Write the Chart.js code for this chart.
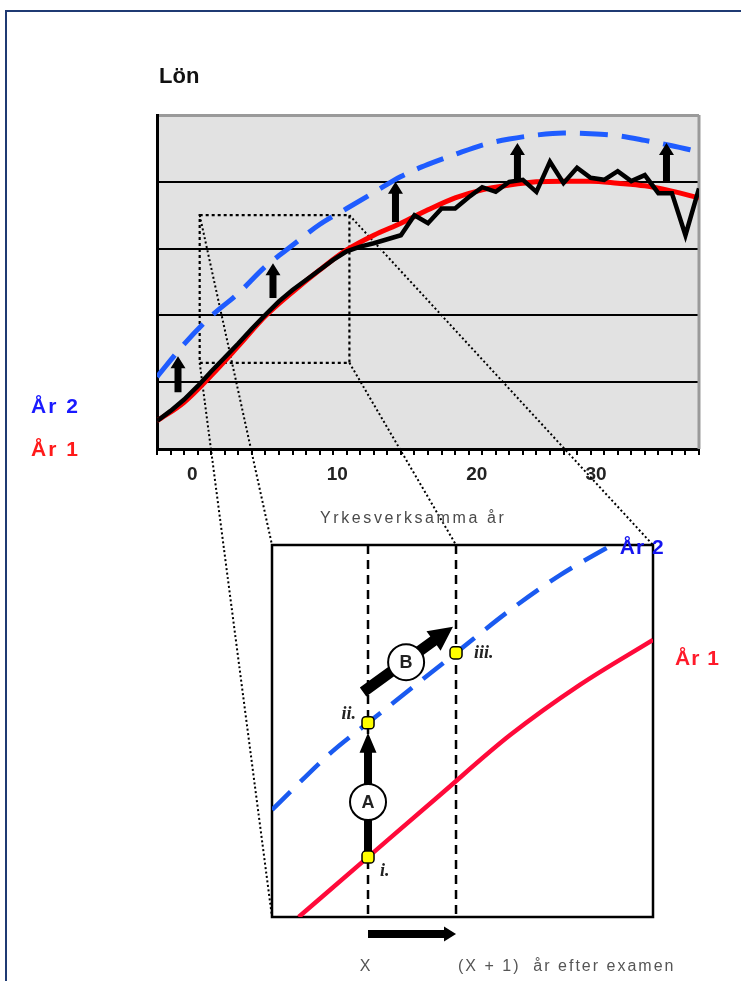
<!DOCTYPE html>
<html><head><meta charset="utf-8">
<script src="https://cdn.jsdelivr.net/npm/chart.js@4/dist/chart.umd.min.js"></script>
<style>
html,body{margin:0;padding:0;background:#fff;}
#wrap{position:relative;width:741px;height:981px;overflow:hidden;}
#frame{position:absolute;left:5px;top:10px;width:800px;height:1000px;border-top:2px solid #1f3a73;border-left:2px solid #1f3a73;}
canvas{position:absolute;left:0;top:0;}
#c2{pointer-events:none;}
</style></head><body>
<div id="wrap"><div id="frame"></div>
<canvas id="c1" width="741" height="981"></canvas>
<canvas id="c2" width="741" height="981"></canvas>
</div>
<script>
// ===== Main chart data (x = yearly tick steps along the axis, y = salary grid units) =====
const xLabelPos  = [2.6, 13.3, 23.6, 32.4];
const xLabelText = ['0', '10', '20', '30'];

const redX  = [0,2,4,6,8,10,12,14,16,18,20,22,24,26,28,30,32,34,36,38,40];
const redY  = [0.42,0.70,1.10,1.54,1.99,2.35,2.68,2.98,3.20,3.38,3.58,3.76,3.88,3.95,4.00,4.01,4.01,3.98,3.94,3.86,3.76];
const blueX = [0,2,4,6,8,10,12,14,16,18,20,22,24,26,28,30,32,34,36,38,40];
const blueY = [1.08,1.57,1.99,2.33,2.73,3.05,3.36,3.60,3.84,4.08,4.26,4.41,4.55,4.64,4.70,4.73,4.72,4.69,4.62,4.54,4.45];
const blackX = [0,1,2,3,4,5,6,7,8,9,10,11,12,13,14,15,16,17,18,19,20,21,22,23,24,25,26,27,28,29,30,31,32,33,34,35,36,37,38,39,40];
const blackY = [0.42,0.57,0.74,0.94,1.16,1.37,1.58,1.80,2.01,2.21,2.38,2.53,2.68,2.83,2.96,3.03,3.08,3.14,3.20,3.50,3.38,3.60,3.60,3.77,3.92,3.85,4.00,4.03,3.85,4.30,3.98,4.21,4.06,4.03,4.16,4.01,4.10,3.83,3.83,3.20,3.90];

// raise arrows (from År 1 level up to År 2 level)
const upArrowX    = [1.55, 8.56, 17.6, 26.6, 37.6];
const upArrowFrom = [0.85, 2.26, 3.40, 4.00, 4.00];
const upArrowTo   = [1.39, 2.78, 4.00, 4.58, 4.58];

// zoomed region in main chart
const zoomX = [3.15, 14.2];
const zoomY = [1.29, 3.50];

// ===== Zoom panel data =====
const panelRedX  = [0.7, 2.52, 4.41, 6.25, 8.08, 10];
const panelRedY  = [0, 1.61, 3.28, 4.89, 6.24, 7.45];
const panelBlueX = [0, 1.57, 2.52, 4.83, 6.25, 7.56, 8.92];
const panelBlueY = [2.88, 4.44, 5.22, 7.10, 8.25, 9.19, 10.0];
const markX      = [2.52, 4.83];
const markText   = ['X', '(X + 1)  år efter examen'];
const ptX        = [2.52, 2.52, 4.83];
const ptY        = [1.61, 5.22, 7.10];
const ptText     = ['i.', 'ii.', 'iii.'];
const arrowA     = {x0:2.52, y0:1.75, x1:2.52, y1:4.95, cx:2.52, cy:3.09, text:'A'};
const arrowB     = {x0:2.39, y0:6.05, x1:4.75, y1:7.80, cx:3.52, cy:6.85, text:'B'};

const SANS = '"Liberation Sans", Arial, sans-serif';
Chart.defaults.font.family = SANS;

function pts(xs, ys){ return xs.map((x,i)=>({x, y: ys[i]})); }
function arrow(ctx,x0,y0,x1,y1,sw,hw,hl){
  const dx=x1-x0, dy=y1-y0, L=Math.hypot(dx,dy), ux=dx/L, uy=dy/L, px=-uy, py=ux;
  const bx=x1-ux*hl, by=y1-uy*hl;
  ctx.beginPath();
  ctx.moveTo(x0+px*sw/2,y0+py*sw/2);
  ctx.lineTo(bx+px*sw/2,by+py*sw/2);
  ctx.lineTo(bx+px*hw/2,by+py*hw/2);
  ctx.lineTo(x1,y1);
  ctx.lineTo(bx-px*hw/2,by-py*hw/2);
  ctx.lineTo(bx-px*sw/2,by-py*sw/2);
  ctx.lineTo(x0-px*sw/2,y0-py*sw/2);
  ctx.closePath(); ctx.fill();
}

// ===== Panel chart (created first so the main chart can connect to it) =====
const panelPlugin = {
  id:'panel',
  beforeDatasetsDraw(chart){
    const {ctx, chartArea:a, scales:{x,y}} = chart;
    ctx.save();
    ctx.fillStyle='#fff'; ctx.fillRect(a.left,a.top,a.width,a.height);
    ctx.strokeStyle='#000'; ctx.lineWidth=2.5; ctx.setLineDash([9,6]);
    markX.forEach(v=>{const p=x.getPixelForValue(v); ctx.beginPath(); ctx.moveTo(p,a.top); ctx.lineTo(p,a.bottom); ctx.stroke();});
    ctx.setLineDash([]);
    ctx.lineWidth=2.5; ctx.strokeRect(a.left,a.top,a.width,a.height);
    ctx.fillStyle='#000';
    [arrowA, arrowB].forEach((A,i)=>{
      const sw = i===0?8:11, hw = i===0?17:24, hl = i===0?20:24;
      arrow(ctx, x.getPixelForValue(A.x0), y.getPixelForValue(A.y0), x.getPixelForValue(A.x1), y.getPixelForValue(A.y1), sw, hw, hl);
    });
    [arrowA, arrowB].forEach(A=>{
      const cx=x.getPixelForValue(A.cx), cy=y.getPixelForValue(A.cy);
      ctx.beginPath(); ctx.arc(cx,cy,18,0,Math.PI*2);
      ctx.fillStyle='#fff'; ctx.fill(); ctx.lineWidth=2; ctx.strokeStyle='#000'; ctx.stroke();
      ctx.fillStyle='#222'; ctx.font='bold 18px '+SANS; ctx.textAlign='center'; ctx.textBaseline='middle';
      ctx.fillText(A.text, cx, cy+1);
    });
    ctx.restore();
  },
  afterDatasetsDraw(chart){
    const {ctx, scales:{x,y}} = chart;
    ctx.save();
    ctx.fillStyle='#222'; ctx.font='italic bold 18px "Liberation Serif", serif'; ctx.textBaseline='middle';
    const off = [[12,14,'left'],[-12,-8,'right'],[18,0,'left']];
    ptText.forEach((t,i)=>{
      ctx.textAlign=off[i][2];
      ctx.fillText(t, x.getPixelForValue(ptX[i])+off[i][0], y.getPixelForValue(ptY[i])+off[i][1]);
    });
    ctx.restore();
  },
  afterDraw(chart){
    const {ctx, chartArea:a, scales:{x,y}} = chart;
    ctx.save();
    ctx.fillStyle='#000';
    arrow(ctx, x.getPixelForValue(markX[0]), a.bottom+17, x.getPixelForValue(markX[1]), a.bottom+17, 8, 15, 12);
    ctx.fillStyle='#555'; ctx.font='16px '+SANS; ctx.textBaseline='middle';
    ctx.letterSpacing='2px';
    ctx.textAlign='center'; ctx.fillText(markText[0], x.getPixelForValue(markX[0])-2, a.bottom+50);
    ctx.textAlign='left'; ctx.fillText(markText[1], x.getPixelForValue(markX[1])+2, a.bottom+50);
    ctx.letterSpacing='1px';
    ctx.font='bold 21px '+SANS;
    ctx.fillStyle='#1515f0';
    ctx.fillText('År 2', x.getPixelForValue(panelBlueX[panelBlueX.length-1])+8, a.top+3);
    ctx.fillStyle='#ff1a2a';
    ctx.fillText('År 1', a.right+22, y.getPixelForValue(panelRedY[panelRedY.length-1])+19);
    ctx.restore();
  }
};

const panel = new Chart(document.getElementById('c2'), {
  type:'line',
  data:{datasets:[
    {label:'punkter', order:0, data:pts(ptX,ptY), showLine:false, pointStyle:'rectRounded', pointRadius:7, backgroundColor:'#ffff00', borderColor:'#000', borderWidth:1.5},
    {label:'År 2', order:1, data:pts(panelBlueX,panelBlueY), borderColor:'#1a5af0', borderWidth:4.5, borderDash:[26,14], pointRadius:0, cubicInterpolationMode:'monotone'},
    {label:'År 1', order:2, data:pts(panelRedX,panelRedY), borderColor:'#ff0a3a', borderWidth:4.5, pointRadius:0, cubicInterpolationMode:'monotone'}
  ]},
  options:{
    responsive:false, animation:false, events:[],
    layout:{padding:{left:272, right:741-653, top:545, bottom:981-917}},
    scales:{x:{type:'linear',min:0,max:10,display:false}, y:{min:0,max:10,display:false}},
    plugins:{legend:{display:false}, tooltip:{enabled:false}}
  },
  plugins:[panelPlugin]
});

// ===== Main chart =====
const mainPlugin = {
  id:'mainDeco',
  beforeDraw(chart){
    const {ctx, chartArea:a} = chart;
    ctx.save(); ctx.fillStyle='#e2e2e2'; ctx.fillRect(a.left,a.top,a.width,a.height); ctx.restore();
  },
  beforeDatasetsDraw(chart){
    const {ctx, chartArea:a, scales:{x,y}} = chart;
    ctx.save();
    ctx.strokeStyle='#9a9a9a'; ctx.lineWidth=3;
    ctx.beginPath(); ctx.moveTo(a.right,a.top); ctx.lineTo(a.right,a.bottom); ctx.stroke();
    // zoom rectangle
    const L=x.getPixelForValue(zoomX[0]), R=x.getPixelForValue(zoomX[1]), T=y.getPixelForValue(zoomY[1]), B=y.getPixelForValue(zoomY[0]);
    ctx.strokeStyle='#000'; ctx.lineWidth=2.2; ctx.setLineDash([3,3]);
    ctx.strokeRect(L,T,R-L,B-T);
    // connectors to the panel
    const pa = panel.chartArea, pxs = panel.scales.x;
    const links = [[L,T,pa.left,pa.top],[L,B,pa.left,pa.bottom],[R,T,pa.right,pa.top],[R,B,pxs.getPixelForValue(markX[1]),pa.top]];
    ctx.lineWidth=2; ctx.setLineDash([2,2.5]);
    links.forEach(l=>{ctx.beginPath(); ctx.moveTo(l[0],l[1]); ctx.lineTo(l[2],l[3]); ctx.stroke();});
    ctx.restore();
  },
  afterDatasetsDraw(chart){
    const {ctx, scales:{x,y}} = chart;
    ctx.save(); ctx.fillStyle='#000';
    upArrowX.forEach((v,i)=>{
      const px=x.getPixelForValue(v);
      arrow(ctx, px, y.getPixelForValue(upArrowFrom[i]), px, y.getPixelForValue(upArrowTo[i]), 7, 15, 12);
    });
    ctx.restore();
  },
  afterDraw(chart){
    const {ctx, chartArea:a} = chart;
    ctx.save();
    ctx.textBaseline='alphabetic'; ctx.textAlign='left';
    ctx.fillStyle='#111'; ctx.font='bold 22px '+SANS;
    ctx.fillText('Lön', a.left+2, a.top-32);
    ctx.font='bold 21px '+SANS; ctx.letterSpacing='2px';
    ctx.fillStyle='#1a1aff'; ctx.fillText('År 2', 31, 413);
    ctx.fillStyle='#ff1a1a'; ctx.fillText('År 1', 31, 456);
    ctx.font='16px '+SANS; ctx.letterSpacing='2.6px'; ctx.fillStyle='#4a4a4a';
    ctx.fillText('Yrkesverksamma år', 320, 523);
    ctx.restore();
  }
};

const XH = 60;
const main = new Chart(document.getElementById('c1'), {
  type:'line',
  data:{datasets:[
    {label:'Lön', order:0, data:pts(blackX,blackY), borderColor:'#000', borderWidth:4.5, pointRadius:0, tension:0},
    {label:'År 1', order:1, data:pts(redX,redY), borderColor:'#ff0000', borderWidth:5, pointRadius:0, cubicInterpolationMode:'monotone'},
    {label:'År 2', order:2, data:pts(blueX,blueY), borderColor:'#1f5cff', borderWidth:5, borderDash:[28,14], pointRadius:0, cubicInterpolationMode:'monotone'}
  ]},
  options:{
    responsive:false, animation:false, events:[],
    layout:{padding:{left:157, right:741-699, top:115, bottom:981-449-XH}},
    plugins:{legend:{display:false}, tooltip:{enabled:false}},
    scales:{
      x:{type:'linear', min:0, max:40,
        afterFit:s=>{s.height=XH;},
        afterBuildTicks:s=>{
          const t=[]; for(let i=0;i<=40;i++) t.push({value:i});
          xLabelPos.forEach(v=>t.push({value:v}));
          t.sort((p,q)=>p.value-q.value); s.ticks=t;
        },
        ticks:{autoSkip:false, maxRotation:0, color:'#222', padding:8,
          font:{size:19, weight:'bold'},
          callback:v=>{const i=xLabelPos.indexOf(v); return i>=0?xLabelText[i]:'';}},
        grid:{drawOnChartArea:false, tickLength:6, lineWidth:2,
          color:c=> (c.tick && Number.isInteger(c.tick.value)) ? '#000' : 'rgba(0,0,0,0)'},
        border:{color:'#000', width:3}
      },
      y:{min:0, max:5,
        afterFit:s=>{s.width=0;},
        ticks:{display:false, stepSize:1},
        grid:{drawTicks:false,
          color:c=> c.tick.value===5 ? '#9a9a9a' : (c.tick.value===0 ? 'rgba(0,0,0,0)' : '#000'),
          lineWidth:c=> c.tick.value===5 ? 3 : 2},
        border:{color:'#000', width:3}
      }
    }
  },
  plugins:[mainPlugin]
});
</script>
</body></html>
